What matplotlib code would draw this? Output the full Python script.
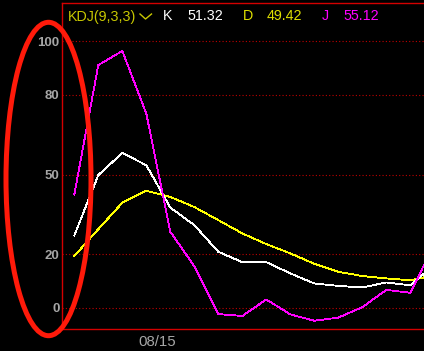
import matplotlib
matplotlib.use("Agg")
import matplotlib.pyplot as plt
from matplotlib.patches import Ellipse
from matplotlib.lines import Line2D

# ---- data ----
k_values = [27.1, 49.8, 58.1, 53.5, 37.6, 31.0, 21.0, 17.1, 17.1, 12.9, 9.1, 8.2, 7.6, 9.5, 8.4, 16.1]
d_values = [19.4, 29.5, 39.4, 43.9, 41.6, 37.8, 32.9, 27.9, 23.9, 20.4, 16.5, 13.5, 11.9, 11.0, 10.3, 12.2]
j_values = [42.5, 91.1, 96.4, 72.9, 28.5, 15.6, -2.4, -3.1, 3.1, -2.5, -4.9, -3.7, 0.2, 6.7, 5.6, 23.9]
y_ticks = [0, 20, 50, 80, 100]
x_label = "08/15"
header_name = "KDJ(9,3,3)"
header_k = "51.32"
header_d = "49.42"
header_j = "55.12"

W, H = 424, 351
fig = plt.figure(figsize=(W / 100, H / 100), dpi=100, facecolor="black")
ax = fig.add_axes([62.3 / W, (H - 329.3) / H, 1 - 62.3 / W, (329.3 - 3.3) / H])
ax.set_facecolor("black")

x = list(range(len(k_values)))
ax.plot(x, d_values, color="#ffff00", lw=0.6, antialiased=False)
ax.plot(x, k_values, color="#ffffff", lw=0.6, antialiased=False)
ax.plot(x, j_values, color="#ff00ff", lw=0.6, antialiased=False)

ax.set_xlim(-0.5, 14.57)
ax.set_ylim(-8.1, 114.3)

for t in y_ticks:
    ax.axhline(t, color="#c00000", lw=0.8, ls=(0, (1, 2)), zorder=0)

ax.set_yticks(y_ticks)
ax.set_yticklabels([str(t) for t in y_ticks], fontfamily="Liberation Sans",
                   fontweight="bold", fontsize=9.5, color="#a6a6a6")
ax.tick_params(axis="y", length=0, pad=2)
ax.set_xticks([3.47])
ax.set_xticklabels([x_label], fontfamily="Liberation Sans", fontsize=10.8, color="#a6a6a6")
ax.tick_params(axis="x", length=0, pad=4)

for side in ["left", "top", "bottom"]:
    ax.spines[side].set_color("#d40000")
    ax.spines[side].set_linewidth(1.0)
ax.spines["right"].set_visible(False)

# header
def htext(px, s, color):
    fig.text(px / W, 1 - 20.5 / H, s, color=color, fontsize=10.3,
             fontfamily="Liberation Sans", va="baseline", ha="left")

htext(67.5, header_name, "#c8c800")
htext(163, "K", "#ffffff")
htext(187.3, header_k, "#ffffff")
htext(242.5, "D", "#e0e000")
htext(267, header_d, "#e0e000")
htext(322, "J", "#ff00ff")
htext(343.7, header_j, "#ff00ff")

fig.add_artist(Line2D([140 / W, 145.5 / W, 151.5 / W],
                      [1 - 14 / H, 1 - 19 / H, 1 - 14 / H],
                      color="#c8c800", lw=1.0, transform=fig.transFigure))

# red annotation ellipse
fig.add_artist(Ellipse((48.5 / 100, (H - 179) / 100), 0.85, 3.134,
                       fill=False, edgecolor="#ff1a0a", lw=3.6,
                       transform=fig.dpi_scale_trans, zorder=10))

fig.savefig("out.png", dpi=100, facecolor="black")
